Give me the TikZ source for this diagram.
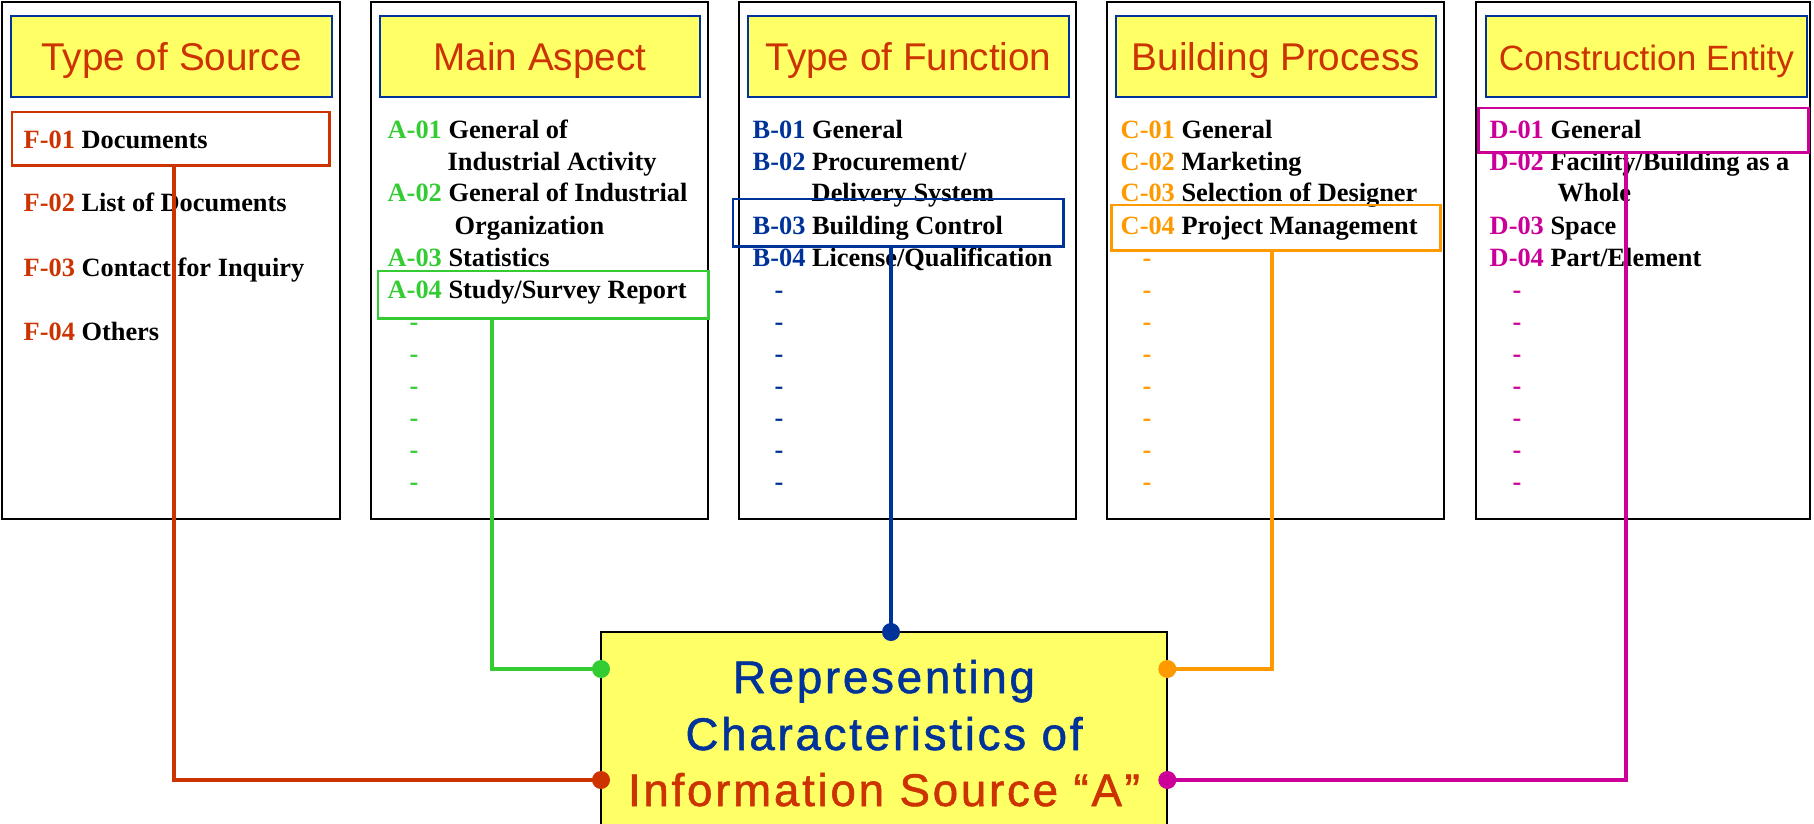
\documentclass[tikz,border=0pt]{standalone}
\usepackage{fontspec}
\setmainfont{Liberation Serif}
\newfontfamily\headfont{Liberation Sans}
\newfontfamily\bigfont[LetterSpace=6, FakeBold=1.2]{Liberation Sans}
\usetikzlibrary{positioning, calc}

\definecolor{srcred}{RGB}{204,51,0}
\definecolor{aspgreen}{RGB}{51,204,51}
\definecolor{fnblue}{RGB}{0,51,153}
\definecolor{procorange}{RGB}{255,153,0}
\definecolor{entmag}{RGB}{204,0,153}
\definecolor{padyellow}{RGB}{255,255,102}

\begin{document}
\begin{tikzpicture}[x=0.01cm, y=-0.01cm,
        panel/.style={draw=black, line width=0.6pt, anchor=north west,
            inner sep=0pt, outer sep=0pt, minimum height=5.17cm},
        titlebox/.style={draw=fnblue, fill=padyellow, line width=0.5pt,
            minimum height=0.81cm, inner sep=0pt, text height=0.29cm,
            text depth=0.02cm, text=srcred,
            font=\headfont\fontsize{11}{13}\selectfont},
        item/.style={anchor=base west, inner sep=0pt,
            font=\bfseries\fontsize{7.5}{9}\selectfont},
        pick/.style={draw=#1, line width=0.85pt, anchor=north west,
            inner sep=0pt, outer sep=0pt},
        wire/.style={draw=#1, line width=1.4pt},
        knob/.style={circle, fill=#1, inner sep=0pt, minimum size=0.18cm},
        bigline/.style={anchor=base, inner sep=0pt,
            font=\bigfont\fontsize{13}{15}\selectfont}]

    \useasboundingbox (0,0) rectangle (1814,824);
    \clip (0,0) rectangle (1814,824);

    % the five columns
    \node[panel, minimum width=3.38cm] (colF) at (2,2) {};
    \node[panel, minimum width=3.37cm] (colA) at (371,2) {};
    \node[panel, minimum width=3.37cm] (colB) at (739,2) {};
    \node[panel, minimum width=3.37cm] (colC) at (1107,2) {};
    \node[panel, minimum width=3.34cm] (colD) at (1476,2) {};

    \node[titlebox, minimum width=3.21cm] (tF) at (171.5,56.5) {Type of Source};
    \node[titlebox, minimum width=3.20cm] (tA) at (540,56.5) {Main Aspect};
    \node[titlebox, minimum width=3.21cm] (tB) at (908.5,56.5) {Type of Function};
    \node[titlebox, minimum width=3.20cm] (tC) at (1276,56.5) {Building Process};
    \node[titlebox, minimum width=3.21cm,
        font=\headfont\fontsize{10}{12}\selectfont] (tD) at (1646.5,56.5) {Construction Entity};

    % items
    \foreach \k/\lab/\txt in {0/F-01/Documents, 1/F-02/List of Documents,
            2/F-03/Contact for Inquiry, 3/F-04/Others}
        \node[item] (f\k) at (23,{148+64*\k}) {\textcolor{srcred}{\lab} \txt};

    \foreach \k/\lab/\txt in {0/A-01/General of, 2/A-02/General of Industrial,
            4/A-03/Statistics, 5/A-04/{Study/Survey Report}}
        \node[item] (a\k) at (387,{138+32*\k}) {\textcolor{aspgreen}{\lab} \txt};
    \node[item] (a1) at (447,170) {Industrial Activity};
    \node[item] (a3) at (454,234) {Organization};
    \foreach \k in {6,...,11}
        \node[item, text=aspgreen] (adash\k) at (409,{138+32*\k}) {-};

    \foreach \k/\lab/\txt in {0/B-01/General, 1/B-02/{Procurement/},
            3/B-03/Building Control, 4/B-04/{License/Qualification}}
        \node[item] (b\k) at (752,{138+32*\k}) {\textcolor{fnblue}{\lab} \txt};
    \node[item] (b2) at (811,202) {Delivery System};
    \foreach \k in {5,...,11}
        \node[item, text=fnblue] (bdash\k) at (774,{138+32*\k}) {-};

    \foreach \k/\lab/\txt in {0/C-01/General, 1/C-02/Marketing,
            2/C-03/Selection of Designer, 3/C-04/Project Management}
        \node[item] (c\k) at (1120,{138+32*\k}) {\textcolor{procorange}{\lab} \txt};
    \foreach \k in {4,...,11}
        \node[item, text=procorange] (cdash\k) at (1142,{138+32*\k}) {-};

    \foreach \k/\lab/\txt in {0/D-01/General, 1/D-02/{Facility/Building as a},
            3/D-03/Space, 4/D-04/{Part/Element}}
        \node[item] (d\k) at (1489,{138+32*\k}) {\textcolor{entmag}{\lab} \txt};
    \node[item] (d2) at (1557,202) {Whole};
    \foreach \k in {5,...,11}
        \node[item, text=entmag] (ddash\k) at (1512,{138+32*\k}) {-};

    % chosen entries
    \node[pick=srcred, minimum width=3.17cm, minimum height=0.53cm] (f01) at (12,112) {};
    \node[pick=aspgreen, minimum width=3.30cm, minimum height=0.47cm] (a04) at (378,271) {};
    \node[pick=fnblue, minimum width=3.30cm, minimum height=0.47cm] (b03) at (733,199) {};
    \node[pick=procorange, minimum width=3.29cm, minimum height=0.45cm] (c04) at (1111,205) {};
    \node[pick=entmag, minimum width=3.30cm, minimum height=0.44cm] (d01) at (1478,108) {};

    % centre box
    \node[draw=black, fill=padyellow, line width=0.6pt, anchor=north west,
        inner sep=0pt, outer sep=0pt, minimum width=5.66cm,
        minimum height=2.4cm] (cen) at (601,632) {};

    \coordinate (fx) at (174,0);
    \coordinate (gx) at (492,0);
    \coordinate (bx) at (891,0);
    \coordinate (ox) at (1272,0);
    \coordinate (mx) at (1626,0);
    \coordinate (hi) at (0,669);
    \coordinate (lo) at (0,780);

    \draw[wire=srcred] (f01.south -| fx) |- (cen.west |- lo);
    \draw[wire=aspgreen] (a04.south -| gx) |- (cen.west |- hi);
    \draw[wire=fnblue] (b03.south -| bx) -- (cen.north -| bx);
    \draw[wire=procorange] (c04.south -| ox) |- (cen.east |- hi);
    \draw[wire=entmag] (d01.south -| mx) |- (cen.east |- lo);

    \node[knob=srcred] (kF) at (cen.west |- lo) {};
    \node[knob=aspgreen] (kA) at (cen.west |- hi) {};
    \node[knob=fnblue] (kB) at (cen.north -| bx) {};
    \node[knob=procorange] (kC) at (cen.east |- hi) {};
    \node[knob=entmag] (kD) at (cen.east |- lo) {};

    \node[bigline, text=fnblue] (cen1) at (884,693) {Representing};
    \node[bigline, text=fnblue] (cen2) at (884,750) {Characteristics of};
    \node[bigline, text=srcred] (cen3) at (884,806) {Information Source “A”};
\end{tikzpicture}
\end{document}
